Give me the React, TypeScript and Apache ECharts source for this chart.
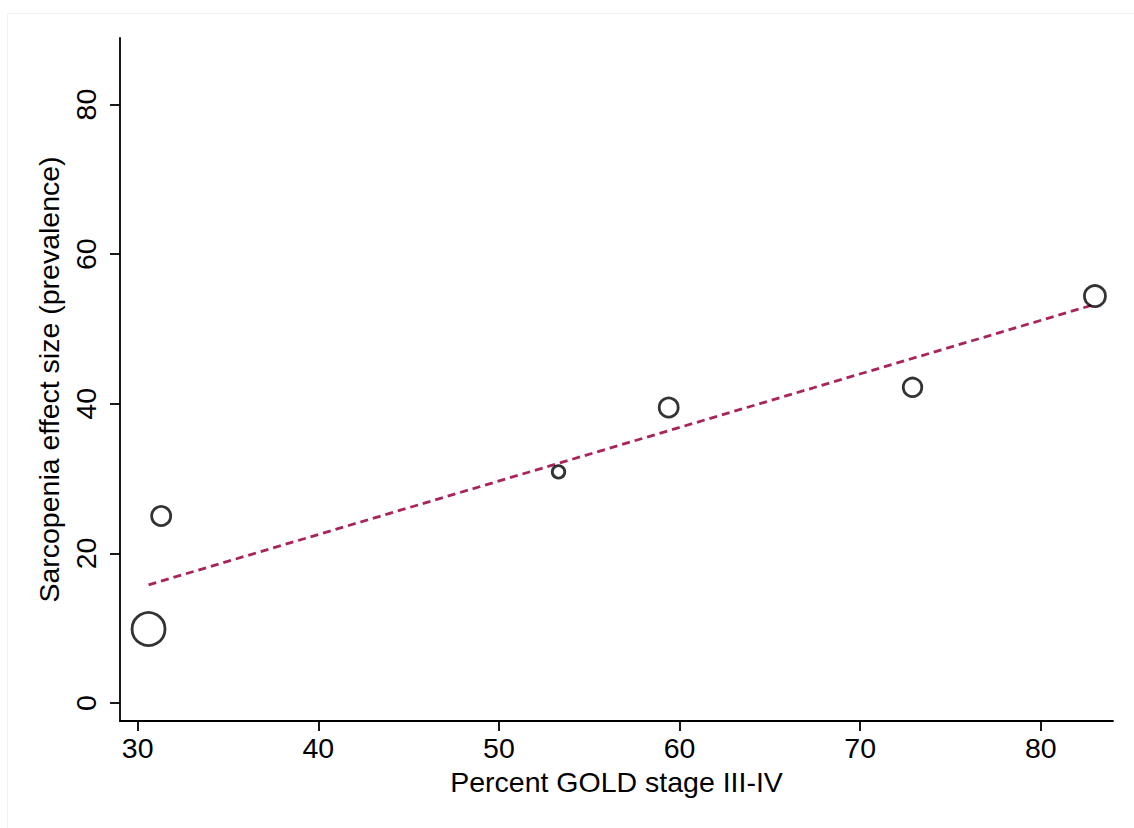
import React, { useEffect, useRef } from "react";
import * as echarts from "echarts";

// Study-level data
const goldPercent = [30.6, 31.3, 53.3, 59.4, 72.9, 83.0];
const prevalence = [9.9, 25.0, 30.9, 39.5, 42.2, 54.4];
// marker diameters (study weights), in px
const weights = [33, 19, 12.5, 19, 18.5, 21];
// fitted meta-regression line end points
const fitX = [30.6, 83.0];
const fitY = [15.8, 53.3];

const xTicks = [30, 40, 50, 60, 70, 80];
const yTicks = [0, 20, 40, 60, 80];

const FONT = "'Liberation Sans', Arial, Helvetica, sans-serif";
const FS = 28.5;

export default function App() {
  const ref = useRef<HTMLDivElement>(null);
  useEffect(() => {
    if (!ref.current) return;
    const chart = echarts.init(ref.current, null, { renderer: "svg" });
    const points = goldPercent.map((x, i) => ({
      value: [x, prevalence[i]],
      symbolSize: weights[i],
    }));
    const line = fitX.map((x, i) => [x, fitY[i]]);
    chart.setOption({
      animation: false,
      backgroundColor: "#ffffff",
      graphic: [
        {
          type: "rect",
          shape: { x: 7.5, y: 13.5, width: 1200, height: 900 },
          style: { fill: "none", stroke: "#f0f0f0", lineWidth: 1 },
          silent: true,
          z: -10,
        },
      ],
      grid: { left: 120, right: 21, top: 38, bottom: 107, containLabel: false },
      xAxis: {
        type: "value",
        min: 29.02,
        max: 84,
        name: "Percent GOLD stage III-IV",
        nameLocation: "middle",
        nameGap: 46,
        nameTextStyle: { fontFamily: FONT, fontSize: FS, color: "#000" },
        axisLine: { onZero: false, lineStyle: { color: "#000", width: 1.8 } },
        axisTick: {
          show: true,
          length: 10,
          lineStyle: { color: "#000", width: 1.8 },
          customValues: xTicks,
        },
        axisLabel: {
          fontFamily: FONT,
          fontSize: FS,
          color: "#000",
          margin: 12,
          customValues: xTicks,
          showMinLabel: true,
          showMaxLabel: true,
        },
        splitLine: { show: false },
      },
      yAxis: {
        type: "value",
        min: -2.4,
        max: 88.9,
        name: "Sarcopenia effect size (prevalence)",
        nameLocation: "middle",
        nameRotate: 90,
        nameGap: 50,
        nameTextStyle: { fontFamily: FONT, fontSize: FS, color: "#000" },
        axisLine: { onZero: false, lineStyle: { color: "#000", width: 1.8 } },
        axisTick: {
          show: true,
          length: 10,
          lineStyle: { color: "#000", width: 1.8 },
          customValues: yTicks,
        },
        axisLabel: {
          fontFamily: FONT,
          fontSize: FS,
          color: "#000",
          margin: 20,
          rotate: 90,
          customValues: yTicks,
        },
        splitLine: { show: false },
      },
      series: [
        {
          type: "line",
          data: line,
          symbol: "none",
          lineStyle: { color: "#a8245a", width: 2.8, type: [8, 5] },
          z: 1,
        },
        {
          type: "scatter",
          data: points,
          symbol: "circle",
          itemStyle: { color: "rgba(255,255,255,0)", borderColor: "#000", borderWidth: 2.8 },
          z: 2,
        },
      ],
    });
    return () => chart.dispose();
  }, []);
  return (
    <div
      ref={ref}
      style={{ position: "fixed", left: 0, top: 0, width: 1134, height: 828 }}
    />
  );
}
